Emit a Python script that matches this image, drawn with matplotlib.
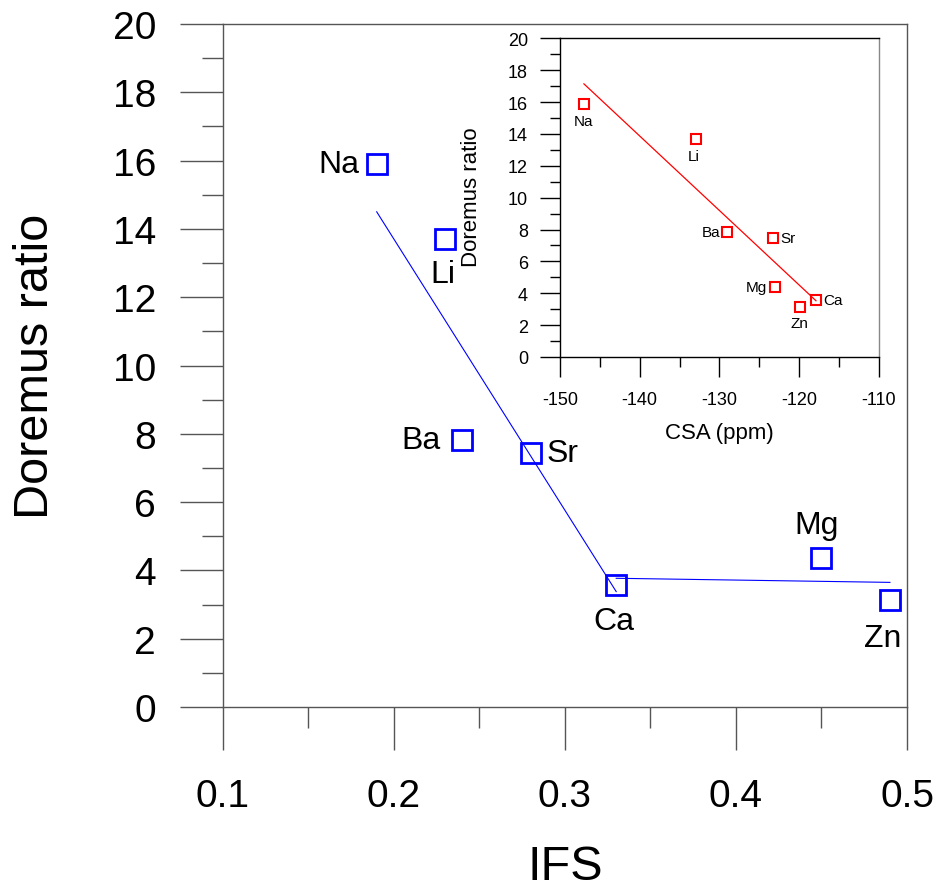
import matplotlib
matplotlib.use("Agg")
import matplotlib.pyplot as plt
from matplotlib.ticker import MultipleLocator

plt.rcParams['font.family'] = ['Liberation Sans', 'DejaVu Sans']
plt.rcParams['axes.unicode_minus'] = False

# ---- data ----
ions = ['Na', 'Li', 'Ba', 'Sr', 'Ca', 'Mg', 'Zn']
ifs = [0.19, 0.23, 0.24, 0.28, 0.33, 0.45, 0.49]
doremus = [15.9, 13.7, 7.82, 7.45, 3.58, 4.37, 3.14]
csa = [-147.0, -133.0, -129.0, -123.3, -117.9, -123.0, -119.95]

fit1_x = [0.19, 0.33]
fit1_y = [14.5, 3.38]
fit2_x = [0.33, 0.49]
fit2_y = [3.77, 3.65]
fit_csa_x = [-147.0, -117.9]
fit_csa_y = [17.14, 3.53]

# label offsets (pixels) and alignment for main plot
main_lab = {
    'Na': (-17, 0, 'right', 'center'),
    'Li': (-2, -20, 'center', 'top'),
    'Ba': (-22, 0, 'right', 'center'),
    'Sr': (16, 0, 'left', 'center'),
    'Ca': (-2, -21, 'center', 'top'),
    'Mg': (-5, 18, 'center', 'bottom'),
    'Zn': (-7, -23, 'center', 'top'),
}
ins_lab = {
    'Na': (0, -10, 'center', 'top'),
    'Li': (-2, -10, 'center', 'top'),
    'Ba': (-7, 0, 'right', 'center'),
    'Sr': (7, 0, 'left', 'center'),
    'Ca': (7, 0, 'left', 'center'),
    'Mg': (-8, 0, 'right', 'center'),
    'Zn': (0, -9, 'center', 'top'),
}

spine_c = '#555555'

fig = plt.figure(figsize=(9.41, 8.95), dpi=100)
ax = fig.add_axes([0.2367, 0.2089, 0.7272, 0.7632])
ax.set_xlim(0.1, 0.5)
ax.set_ylim(0, 20)
ax.plot(fit1_x, fit1_y, color='blue', lw=0.8)
ax.plot(fit2_x, fit2_y, color='blue', lw=0.8)
ax.plot(ifs, doremus, ls='none', marker='s', ms=14, mfc='none', mec='blue', mew=2)
for name, x, y in zip(ions, ifs, doremus):
    dx, dy, ha, va = main_lab[name]
    ax.annotate(name, (x, y), xytext=(dx, dy), textcoords='offset pixels',
                ha=ha, va=va, fontsize=23)

ax.xaxis.set_major_locator(MultipleLocator(0.1))
ax.xaxis.set_minor_locator(MultipleLocator(0.05))
ax.yaxis.set_major_locator(MultipleLocator(2))
ax.yaxis.set_minor_locator(MultipleLocator(1))
ax.set_xticks([0.1, 0.2, 0.3, 0.4, 0.5])
ax.set_xticklabels(['0.1', '0.2', '0.3', '0.4', '0.5'])
ax.tick_params(which='major', direction='out', length=31, width=1, color=spine_c, labelsize=28)
ax.tick_params(which='minor', direction='out', length=15, width=1, color=spine_c)
ax.tick_params(axis='y', which='major', pad=17)
ax.tick_params(axis='x', which='major', pad=20)
for s in ax.spines.values():
    s.set_color(spine_c)
    s.set_linewidth(1)
ax.set_ylabel('Doremus ratio', fontsize=35)
ax.yaxis.set_label_coords(-0.241, 0.5)
ax.set_xlabel('IFS', fontsize=35)
ax.xaxis.set_label_coords(0.5, -0.2)

# ---- inset ----
ax2 = fig.add_axes([0.5951, 0.6, 0.339, 0.3561])
ax2.set_xlim(-150, -110)
ax2.set_ylim(0, 20)
ax2.plot(fit_csa_x, fit_csa_y, color='red', lw=0.9)
ax2.plot(csa, doremus, ls='none', marker='s', ms=7, mfc='none', mec='red', mew=1.5)
for name, x, y in zip(ions, csa, doremus):
    dx, dy, ha, va = ins_lab[name]
    ax2.annotate(name, (x, y), xytext=(dx, dy), textcoords='offset pixels',
                 ha=ha, va=va, fontsize=11)
ax2.xaxis.set_major_locator(MultipleLocator(10))
ax2.xaxis.set_minor_locator(MultipleLocator(5))
ax2.yaxis.set_major_locator(MultipleLocator(2))
ax2.yaxis.set_minor_locator(MultipleLocator(1))
ax2.tick_params(which='major', direction='out', length=14.4, width=1, color='black', labelsize=13)
ax2.tick_params(which='minor', direction='out', length=7.2, width=1, color='black')
ax2.tick_params(axis='y', which='major', pad=8.6)
ax2.tick_params(axis='x', which='major', pad=10)
for k, s in ax2.spines.items():
    s.set_linewidth(1)
    s.set_color('black')
ax2.spines['right'].set_color('#888888')
ax2.set_ylabel('Doremus ratio', fontsize=16)
ax2.yaxis.set_label_coords(-0.245, 0.505)
ax2.set_xlabel('CSA (ppm)', fontsize=16)
ax2.xaxis.set_label_coords(0.5, -0.205)

fig.savefig('out.png', dpi=100)
